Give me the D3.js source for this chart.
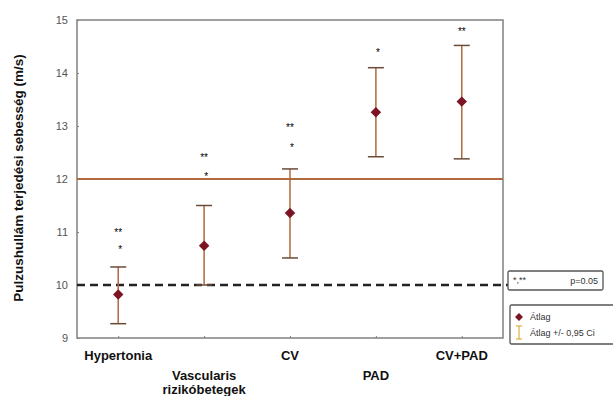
<!DOCTYPE html>
<html lang="hu">
<head>
<meta charset="UTF-8">
<title>Pulzushullám terjedési sebesség</title>
<style>
    html, body { margin: 0; background: #fff; }
    svg { display: block; font-family: "Liberation Sans", Arial, sans-serif; }
    .tick text { fill: #555; font-size: 11px; }
    .cat { font-weight: bold; font-size: 13px; fill: #111; }
</style>
</head>
<body>
<div class="chart"></div>
<script src="https://d3js.org/d3.v7.min.js"></script>
<script>
    // groups and values
    var categories = ["Hypertonia", "Vascularis rizikóbetegek", "CV", "PAD", "CV+PAD"];
    var means = [9.82, 10.74, 11.36, 13.26, 13.46];
    var upper = [10.34, 11.5, 12.19, 14.1, 14.52];
    var lower = [9.27, 10.0, 10.51, 12.42, 12.38];
    var doubleStar = [11.0, 12.42, 12.98, null, 14.79];
    var singleStar = [10.68, 12.05, 12.6, 14.4, null];
    var yTicks = [9, 10, 11, 12, 13, 14, 15];
    var refLine = 12, dashLine = 10;

    var W = 613, H = 396;
    var margin = { top: 20, right: 110, bottom: 58, left: 77 },
        width = W - margin.left - margin.right,
        height = H - margin.top - margin.bottom;

    var barColor = "#b06a3c", meanColor = "#7d1424", frame = "#808080";

    var svg = d3.select(".chart").append("svg")
        .attr("width", W).attr("height", H);
    var g = svg.append("g").attr("transform", `translate(${margin.left},${margin.top})`);

    var x = d3.scalePoint().domain(categories).range([0, width]).padding(0.48);
    var y = d3.scaleLinear().domain([9, 15]).range([height, 0]);

    // frame
    g.append("rect").attr("width", width).attr("height", height)
        .attr("fill", "none").attr("stroke", frame).attr("stroke-width", 1.5);

    var yAxis = d3.axisLeft(y).tickValues(yTicks).tickFormat(d3.format("d")).tickSize(3).tickPadding(6);
    g.append("g").call(yAxis).call(s => s.select(".domain").remove())
        .call(s => s.selectAll("line").attr("stroke", frame).attr("x2", 2));

    var xAxis = d3.axisBottom(x).tickSize(2).tickFormat("");
    g.append("g").attr("transform", `translate(0,${height})`).call(xAxis)
        .call(s => s.select(".domain").remove())
        .call(s => s.selectAll("line").attr("stroke", frame).attr("y2", -2));

    // category labels, staggered on two rows
    var rows = [[22], [42, 56], [22], [42], [22]];
    categories.forEach(function (c, i) {
        var parts = i === 1 ? ["Vascularis", "rizikóbetegek"] : [c];
        parts.forEach(function (p, j) {
            g.append("text").attr("class", "cat")
                .attr("x", x(c)).attr("y", height + rows[i][j])
                .attr("text-anchor", "middle").text(p);
        });
    });

    // y title
    svg.append("text")
        .attr("transform", `translate(23,178) rotate(-90)`)
        .attr("text-anchor", "middle")
        .style("font-weight", "bold").style("font-size", "13.5px").attr("fill", "#111")
        .text("Pulzushullám terjedési sebesség (m/s)");

    // reference lines
    g.append("line").attr("x1", 0).attr("x2", width)
        .attr("y1", y(refLine)).attr("y2", y(refLine))
        .attr("stroke", barColor).attr("stroke-width", 2);
    g.append("line").attr("x1", 0).attr("x2", width + 5)
        .attr("y1", y(dashLine)).attr("y2", y(dashLine))
        .attr("stroke", "#222").attr("stroke-width", 2.5).attr("stroke-dasharray", "8,5");

    // error bars
    var bars = g.selectAll(".bar").data(categories).enter().append("g").attr("class", "bar");
    bars.append("line")
        .attr("x1", d => x(d)).attr("x2", d => x(d))
        .attr("y1", (d, i) => y(upper[i])).attr("y2", (d, i) => y(lower[i]))
        .attr("stroke", barColor).attr("stroke-width", 1.5);
    [upper, lower].forEach(function (arr) {
        bars.append("line")
            .attr("x1", d => x(d) - 8).attr("x2", d => x(d) + 8)
            .attr("y1", (d, i) => y(arr[i])).attr("y2", (d, i) => y(arr[i]))
            .attr("stroke", "#6b4a3a").attr("stroke-width", 1.5);
    });
    bars.append("path")
        .attr("d", d3.symbol().type(d3.symbolDiamond2).size(70))
        .attr("transform", (d, i) => `translate(${x(d)},${y(means[i])})`)
        .attr("fill", meanColor);

    // significance marks
    categories.forEach(function (c, i) {
        if (doubleStar[i] != null)
            g.append("text").attr("x", x(c)).attr("y", y(doubleStar[i]) + 4)
                .attr("text-anchor", "middle").style("font-size", "10px").attr("fill", "#000").text("**");
        if (singleStar[i] != null)
            g.append("text").attr("x", x(c) + 2).attr("y", y(singleStar[i]) + 4)
                .attr("text-anchor", "middle").style("font-size", "10px").attr("fill", "#000").text("*");
    });

    // legends
    var lg1 = svg.append("g").attr("transform", "translate(508,271)");
    lg1.append("rect").attr("width", 95).attr("height", 19).attr("rx", 1.5)
        .attr("fill", "#fff").attr("stroke", "#555").attr("stroke-width", 1.3);
    lg1.append("text").attr("x", 5).attr("y", 12).style("font-size", "9px").attr("fill", "#333").text("*,**");
    lg1.append("text").attr("x", 90).attr("y", 13).attr("text-anchor", "end")
        .style("font-size", "9px").attr("fill", "#333").text("p=0.05");

    var lg2 = svg.append("g").attr("transform", "translate(510,305)");
    lg2.append("rect").attr("width", 110).attr("height", 39).attr("rx", 1.5)
        .attr("fill", "#fff").attr("stroke", "#555").attr("stroke-width", 1.3);
    lg2.append("path").attr("d", d3.symbol().type(d3.symbolDiamond2).size(40))
        .attr("transform", "translate(9,12)").attr("fill", meanColor);
    lg2.append("text").attr("x", 20).attr("y", 15).style("font-size", "9px").attr("fill", "#333").text("Átlag");
    lg2.append("line").attr("x1", 9).attr("x2", 9).attr("y1", 21).attr("y2", 34).attr("stroke", "#d4a020");
    lg2.append("line").attr("x1", 6).attr("x2", 12).attr("y1", 21).attr("y2", 21).attr("stroke", "#d4a020");
    lg2.append("line").attr("x1", 6).attr("x2", 12).attr("y1", 34).attr("y2", 34).attr("stroke", "#d4a020");
    lg2.append("text").attr("x", 20).attr("y", 31).style("font-size", "9px").attr("fill", "#333").text("Átlag +/- 0,95 Ci");
</script>
</body>
</html>
